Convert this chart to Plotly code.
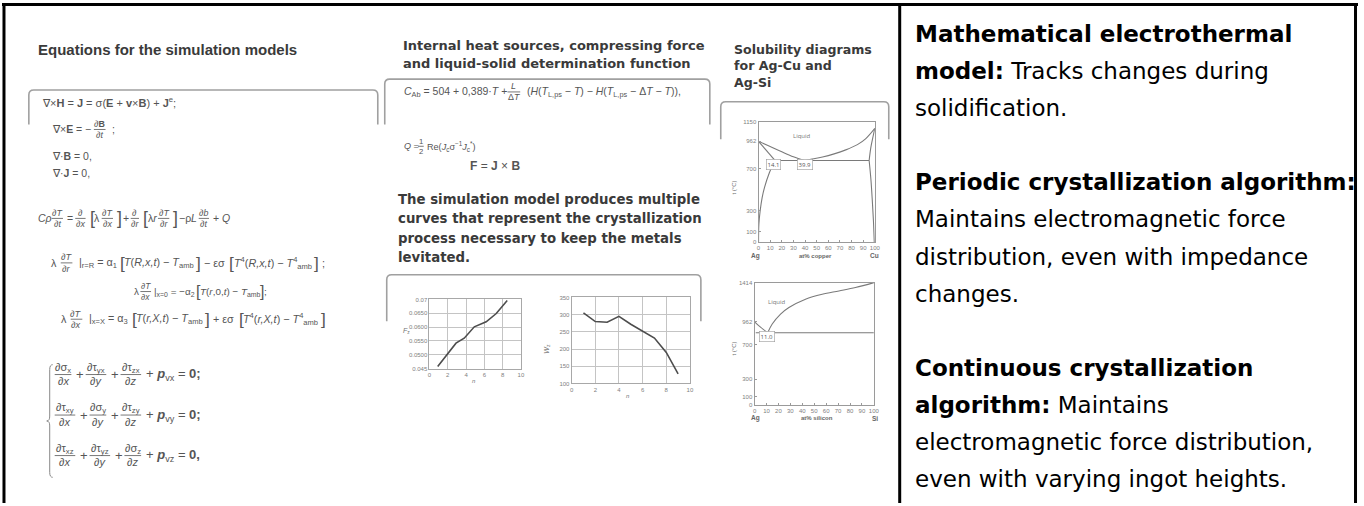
import re
import plotly.graph_objects as go

W, H = 1364, 506

# ---------------- chart data ----------------
# small chart 1: compressing force F_z vs n
fz_n = [0.9, 2.9, 3.8, 4.9, 6.2, 7.3, 8.5]
fz_val = [0.0458, 0.0542, 0.0560, 0.0601, 0.0619, 0.0649, 0.0696]
fz_ticks = [0.045, 0.050, 0.055, 0.060, 0.065, 0.070]
fz_ticklabels = ["0.045", "0.0500", "0.0550", "0.0600", "0.0650", "0.07"]
n_ticks = [0, 2, 4, 6, 8, 10]

# small chart 2: W_z vs n
wz_n = [1, 2, 3, 4, 5, 6, 7, 8, 9]
wz_val = [305, 280, 278, 295, 272, 252, 232, 190, 128]
wz_ticks = [100, 150, 200, 250, 300, 350]

# Ag-Cu phase diagram (at% Cu, deg C)
agcu_liqL_x = [0, 10, 20, 30, 39.9]
agcu_liqL_t = [962, 912, 862, 815, 779]
agcu_liqR_x = [39.9, 45, 55, 65, 75, 85, 92, 100]
agcu_liqR_t = [779, 790, 812, 842, 880, 930, 985, 1085]
agcu_solL_x = [0, 14.1]
agcu_solL_t = [962, 779]
agcu_solvL_x = [14.1, 9.3, 5.1, 3.1, 1.4, 0.3, 0]
agcu_solvL_t = [779, 662, 520, 425, 299, 173, 0]
agcu_solR_x = [95.1, 96.5, 98.5, 100]
agcu_solR_t = [779, 900, 1010, 1085]
agcu_solvR_x = [95.1, 96.6, 97.8, 98.8, 99.5]
agcu_solvR_t = [779, 600, 400, 200, 0]
agcu_eut_x = [14.1, 95.1]
agcu_eut_t = [779, 779]
agcu_yticks = [0, 100, 300, 700, 962, 1150]

# Ag-Si phase diagram (at% Si, deg C)
agsi_liqL_x = [0, 5, 11]
agsi_liqL_t = [962, 900, 835]
agsi_liqR_x = [11, 14.8, 21.8, 28.8, 42.7, 56.7, 70.7, 84.6, 100]
agsi_liqR_t = [835, 936, 1051, 1127, 1223, 1280, 1318, 1357, 1414]
agsi_eut_x = [1, 100]
agsi_eut_t = [835, 835]
agsi_yticks = [0, 100, 300, 700, 962, 1414]
pct_ticks = [0, 10, 20, 30, 40, 50, 60, 70, 80, 90, 100]

# ---------------- texts ----------------
eq_title = "Equations for the simulation models"
mid_title = ["Internal heat sources, compressing force",
             "and liquid-solid determination function"]
sim_text = ["The simulation model produces multiple",
            "curves that represent the crystallization",
            "process necessary to keep the metals",
            "levitated."]
sol_title = ["Solubility diagrams", "for Ag-Cu and", "Ag-Si"]
right_lines = [
    "<b>Mathematical electrothermal</b>",
    "<b>model:</b> Tracks changes during",
    "solidification.",
    "",
    "<b>Periodic crystallization algorithm:</b>",
    "Maintains electromagnetic force",
    "distribution, even with impedance",
    "changes.",
    "",
    "<b>Continuous crystallization</b>",
    "<b>algorithm:</b> Maintains",
    "electromagnetic force distribution,",
    "even with varying ingot heights.",
]

# ---------------- helpers ----------------
ann = []
shapes = []
EQ_COL = "#555555"
EQ_FONT = "Liberation Sans"


def X(px):
    return px / W


def Y(py):
    return 1 - py / H


def text(px, py, s, size, color="#333", family="Liberation Sans", anchor="left",
         yanchor="middle", angle=0):
    ann.append(dict(x=X(px), y=Y(py), xref="paper", yref="paper", text=s, showarrow=False,
                    xanchor=anchor, yanchor=yanchor, textangle=angle, borderpad=0,
                    font=dict(size=round(size, 1), color=color, family=family)))


def line(x0, y0, x1, y1, color="#000", width=1):
    shapes.append(dict(type="line", xref="paper", yref="paper", x0=X(x0), y0=Y(y0),
                       x1=X(x1), y1=Y(y1), line=dict(color=color, width=width)))


def path(points_str, color="#999", width=1.5):
    shapes.append(dict(type="path", xref="paper", yref="paper", path=points_str,
                       line=dict(color=color, width=width)))


def bracket(x0, x1, ytop, ybot, r=5):
    p = (f"M {X(x0)},{Y(ybot)} L {X(x0)},{Y(ytop + r)} Q {X(x0)},{Y(ytop)} {X(x0 + r)},{Y(ytop)} "
         f"L {X(x1 - r)},{Y(ytop)} Q {X(x1)},{Y(ytop)} {X(x1)},{Y(ytop + r)} L {X(x1)},{Y(ybot)}")
    path(p, color="#a0a0a0", width=1.6)


def cw(ch):
    if ch.isdigit():
        return 0.6
    if ch in "il.,;:|!'":
        return 0.27
    if ch in "()[]{}":
        return 0.35
    if ch in "ftrj":
        return 0.3
    if ch == " ":
        return 0.3
    if ch in "mwMW":
        return 0.85
    if ch in "=+\u2212\u00d7":
        return 0.63
    if ch == "\u00b7":
        return 0.3
    if ch == "\u2207":
        return 0.72
    if ch == "\u2202":
        return 0.5
    if ch.isupper():
        return 0.67
    return 0.55


def tw(s, size):
    scale, bold, w = 1.0, 1.0, 0.0
    for p in re.split(r"(<[^>]+>)", s):
        if p.startswith("<"):
            if p in ("<sub>", "<sup>"):
                scale = 0.7
            elif p in ("</sub>", "</sup>"):
                scale = 1.0
            elif p == "<b>":
                bold = 1.07
            elif p == "</b>":
                bold = 1.0
            continue
        for ch in p:
            w += cw(ch) * size * scale * bold * 0.92
    return w


GAP = 0.22


def frac_w(it, size):
    fs = size * 0.85
    return max(tw(it[1], fs), tw(it[2], fs)) + 0.2 * fs


def eq_width(items, size):
    w = 0
    for it in items:
        if isinstance(it, str):
            w += tw(it, size) + size * GAP
        elif it[0] == "f":
            w += frac_w(it, size) + size * GAP
        elif it[0] == "big":
            w += tw(it[1], size * it[2]) * 0.8
    return w


def draw_eq(x0, x1, y, items, maxsize, color=EQ_COL):
    size = min(maxsize, (x1 - x0) / eq_width(items, 1.0))
    natural = eq_width(items, size)
    n_gaps = max(1, sum(1 for it in items if not (isinstance(it, tuple) and it[0] == "big" and it[1] in "[(")))
    extra = 0.0
    if natural < (x1 - x0) and len(items) > 1:
        extra = min(size * 0.3, ((x1 - x0) - natural) / n_gaps)
    x = x0
    for it in items:
        if isinstance(it, str):
            text(x, y, it, size, color=color, family=EQ_FONT)
            x += tw(it, size) + size * GAP + extra
        elif it[0] == "f":
            fs = size * 0.85
            w = frac_w(it, size)
            text(x + w / 2, y - fs * 0.62, it[1], fs, color=color, family=EQ_FONT, anchor="center")
            text(x + w / 2, y + fs * 0.62, it[2], fs, color=color, family=EQ_FONT, anchor="center")
            line(x, y, x + w, y, color=color, width=0.8)
            x += w + size * GAP + extra
        elif it[0] == "big":
            fs = size * it[2]
            text(x, y, it[1], fs, color=color, family=EQ_FONT)
            x += tw(it[1], fs) * 0.8
            if it[1] not in "[(":
                x += extra


# ---------------- frame / borders ----------------
line(0, 1.5, W, 1.5, "#000", 3)
line(2, 0, 2, H, "#000", 3)
line(1361.5, 0, 1361.5, H, "#000", 3)
line(903, 0, 903, H, "#000", 3)

# ---------------- left panel: equations ----------------
text(35, 47, "<b>" + eq_title + "</b>", 15, color="#3a3a3a", family="Liberation Sans")
bracket(27, 378, 88, 123)

draw_eq(39, 185, 100, ["\u2207\u00d7<b>H</b> = <b>J</b> = \u03c3(<b>E</b> + <b>v</b>\u00d7<b>B</b>) + <b>J</b><sup>e</sup>;"], 11)
draw_eq(49, 136, 128, ["\u2207\u00d7<b>E</b> = \u2212", ("f", "\u2202<b>B</b>", "\u2202<i>t</i>"), ";"], 10.5)
draw_eq(49, 113, 155, ["\u2207\u00b7<b>B</b> = 0,"], 10.5)
draw_eq(49, 107, 172, ["\u2207\u00b7<b>J</b> = 0,"], 10.5)

draw_eq(35, 230, 218, [
    "<i>C\u03c1</i>", ("f", "\u2202<i>T</i>", "\u2202<i>t</i>"), "=", ("f", "\u2202", "\u2202<i>x</i>"),
    ("big", "[", 1.7), "\u03bb", ("f", "\u2202<i>T</i>", "\u2202<i>x</i>"), ("big", "]", 1.7), "+",
    ("f", "\u2202", "\u2202<i>r</i>"), ("big", "[", 1.7), "\u03bb<i>r</i>", ("f", "\u2202<i>T</i>", "\u2202<i>r</i>"),
    ("big", "]", 1.7), "\u2212\u03c1<i>L</i>", ("f", "\u2202<i>b</i>", "\u2202<i>t</i>"), "+ <i>Q</i>"], 10.5)

draw_eq(48, 335, 263, [
    "\u03bb", ("f", "\u2202<i>T</i>", "\u2202<i>r</i>"), "|<sub>r=R</sub> = \u03b1<sub>1</sub>", ("big", "[", 1.6),
    "<i>T</i>(<i>R,x,t</i>) \u2212 <i>T</i><sub>amb</sub>", ("big", "]", 1.6), "\u2212 \u03b5\u03c3", ("big", "[", 1.6),
    "<i>T</i><sup>4</sup>(<i>R,x,t</i>) \u2212 <i>T</i><sup>4</sup><sub>amb</sub>", ("big", "]", 1.6), ";"], 10.8)
draw_eq(132, 267, 292, [
    "\u03bb", ("f", "\u2202<i>T</i>", "\u2202<i>x</i>"), "|<sub>x=0</sub> = \u2212\u03b1<sub>2</sub>", ("big", "[", 1.6),
    "<i>T</i>(<i>r</i>,0,<i>t</i>) \u2212 <i>T</i><sub>amb</sub>", ("big", "]", 1.6), ";"], 10)
draw_eq(58, 360, 320, [
    "\u03bb", ("f", "\u2202<i>T</i>", "\u2202<i>x</i>"), "|<sub>x=X</sub> = \u03b1<sub>3</sub>", ("big", "[", 1.6),
    "<i>T</i>(<i>r,X,t</i>) \u2212 <i>T</i><sub>amb</sub>", ("big", "]", 1.6), "+ \u03b5\u03c3", ("big", "[", 1.6),
    "<i>T</i><sup>4</sup>(<i>r,X,t</i>) \u2212 <i>T</i><sup>4</sup><sub>amb</sub>", ("big", "]", 1.6)], 10.8)

# system of equilibrium equations with a left brace
bx = 48
path(f"M {X(bx + 3)},{Y(366)} Q {X(bx)},{Y(366)} {X(bx)},{Y(371)} L {X(bx)},{Y(418)} "
     f"Q {X(bx)},{Y(423)} {X(bx - 3)},{Y(423)} Q {X(bx)},{Y(423)} {X(bx)},{Y(428)} "
     f"L {X(bx)},{Y(475)} Q {X(bx)},{Y(480)} {X(bx + 3)},{Y(480)}", color="#888", width=1)
draw_eq(53, 200, 376, [("f", "\u2202\u03c3<sub>x</sub>", "\u2202<i>x</i>"), "+",
                       ("f", "\u2202\u03c4<sub>yx</sub>", "\u2202<i>y</i>"), "+",
                       ("f", "\u2202\u03c4<sub>zx</sub>", "\u2202<i>z</i>"), "+ <b><i>p</i></b><sub>vx</sub> = <b>0;</b>"], 13)
draw_eq(53, 200, 417, [("f", "\u2202\u03c4<sub>xy</sub>", "\u2202<i>x</i>"), "+",
                       ("f", "\u2202\u03c3<sub>y</sub>", "\u2202<i>y</i>"), "+",
                       ("f", "\u2202\u03c4<sub>zy</sub>", "\u2202<i>z</i>"), "+ <b><i>p</i></b><sub>vy</sub> = <b>0;</b>"], 13)
draw_eq(53, 200, 458, [("f", "\u2202\u03c4<sub>xz</sub>", "\u2202<i>x</i>"), "+",
                       ("f", "\u2202\u03c4<sub>yz</sub>", "\u2202<i>y</i>"), "+",
                       ("f", "\u2202\u03c3<sub>z</sub>", "\u2202<i>z</i>"), "+ <b><i>p</i></b><sub>vz</sub> = <b>0,</b>"], 13)

# ---------------- middle panel ----------------
for i, s in enumerate(mid_title):
    text(402, 43 + 18.5 * i, "<b>" + s + "</b>", 13, color="#3a3a3a", family="DejaVu Sans")
bracket(385, 712, 77, 123)
draw_eq(403, 700, 90, ["<i>C</i><sub>Ab</sub> = 504 + 0,389\u00b7<i>T</i> +", ("f", "<i>L</i>", "\u0394<i>T</i>"),
                       "(<i>H</i>(<i>T</i><sub>L,ps</sub> \u2212 <i>T</i>) \u2212 <i>H</i>(<i>T</i><sub>L,ps</sub> \u2212 \u0394<i>T</i> \u2212 <i>T</i>)),"], 10.5)
draw_eq(403, 477, 145, ["<i>Q</i> =", ("f", "1", "2"), "Re(<i>J</i><sub>c</sub>\u03c3<sup>\u22121</sup><i>J</i><sub>c</sub><sup>*</sup>)"], 10)
draw_eq(470, 537, 165, ["<b>F</b> = <b>J</b> \u00d7 <b>B</b>"], 12)

for i, s in enumerate(sim_text):
    text(397, 199 + 19.5 * i, "<b>" + s + "</b>", 13.3, color="#3a3a3a", family="DejaVu Sans")
bracket(387, 703, 275, 322)

# ---------------- solubility panel ----------------
for i, s in enumerate(sol_title):
    text(735, 47 + 16.6 * i, "<b>" + s + "</b>", 12.6, color="#3a3a3a", family="DejaVu Sans")
bracket(723, 892, 100, 138)

# ---------------- right text panel ----------------
for i, s in enumerate(right_lines):
    if s:
        text(917, 31 + 37.6 * i, s, 23, color="#000", family="DejaVu Sans")

# ---------------- figure & traces ----------------
fig = go.Figure()
LC = "#4d4d4d"
fig.add_trace(go.Scatter(x=fz_n, y=fz_val, mode="lines", line=dict(color=LC, width=1.6),
                         xaxis="x", yaxis="y"))
fig.add_trace(go.Scatter(x=wz_n, y=wz_val, mode="lines", line=dict(color=LC, width=1.6),
                         xaxis="x2", yaxis="y2"))
PC = "#7a7a7a"
for xs, ts in [(agcu_liqL_x, agcu_liqL_t), (agcu_liqR_x, agcu_liqR_t), (agcu_solL_x, agcu_solL_t),
               (agcu_solvL_x, agcu_solvL_t), (agcu_solR_x, agcu_solR_t), (agcu_solvR_x, agcu_solvR_t),
               (agcu_eut_x, agcu_eut_t)]:
    fig.add_trace(go.Scatter(x=xs, y=ts, mode="lines", line=dict(color=PC, width=1.1, shape="spline"),
                             xaxis="x3", yaxis="y3"))
for xs, ts in [(agsi_liqL_x, agsi_liqL_t), (agsi_liqR_x, agsi_liqR_t), (agsi_eut_x, agsi_eut_t)]:
    fig.add_trace(go.Scatter(x=xs, y=ts, mode="lines", line=dict(color=PC, width=1.1, shape="spline"),
                             xaxis="x4", yaxis="y4"))

TF = dict(size=6, color="#808080", family="Liberation Sans")
grid_ax = dict(showgrid=True, gridcolor="#c4c4c4", gridwidth=1, showline=True, linecolor="#a8a8a8",
               linewidth=1, mirror=True, zeroline=False, ticks="", tickfont=TF, fixedrange=True)
box_ax = dict(showgrid=False, showline=True, linecolor="#9a9a9a", linewidth=1.2, mirror=True,
              zeroline=False, ticks="inside", ticklen=2, tickcolor="#9a9a9a", tickfont=TF, fixedrange=True)


def dom(a, b, vertical=False):
    return [Y(b), Y(a)] if vertical else [X(a), X(b)]


fig.update_layout(
    width=W, height=H, autosize=False, margin=dict(l=0, r=0, t=0, b=0),
    paper_bgcolor="white", plot_bgcolor="white", showlegend=False,
    xaxis=dict(domain=dom(430, 522), range=[0, 10], tickvals=n_ticks, anchor="y", **grid_ax),
    yaxis=dict(domain=dom(300, 370, True), range=[0.045, 0.070], tickvals=fz_ticks,
               ticktext=fz_ticklabels, anchor="x", **grid_ax),
    xaxis2=dict(domain=dom(573, 692), range=[0, 10], tickvals=n_ticks, anchor="y2", **grid_ax),
    yaxis2=dict(domain=dom(298, 385, True), range=[100, 350], tickvals=wz_ticks, anchor="x2", **grid_ax),
    xaxis3=dict(domain=dom(761, 878), range=[0, 100], tickvals=pct_ticks, anchor="y3", **box_ax),
    yaxis3=dict(domain=dom(120, 242, True), range=[0, 1150], tickvals=agcu_yticks, anchor="x3", **box_ax),
    xaxis4=dict(domain=dom(757, 877), range=[0, 100], tickvals=pct_ticks, anchor="y4", **box_ax),
    yaxis4=dict(domain=dom(283, 407, True), range=[0, 1414], tickvals=agsi_yticks, anchor="x4", **box_ax),
)

# chart labels
SF = "#707070"
text(402, 332, "<i>F</i><sub>z</sub>", 7, color=SF)
text(475, 383, "<i>n</i>", 6, color=SF, anchor="center")
text(548, 350, "<i>W</i><sub>z</sub>", 7, color=SF, anchor="center", angle=-90)
text(630, 398, "<i>n</i>", 6, color=SF, anchor="center")

text(736, 187, "t (\u00b0C)", 6, color=SF, anchor="center", angle=-90)
text(758, 256, "<b>Ag</b>", 6.5, color="#666", anchor="center")
text(818, 256, "<b>at% copper</b>", 6, color="#666", anchor="center")
text(878, 256, "<b>Cu</b>", 6.5, color="#666", anchor="center")
text(736, 350, "t (\u00b0C)", 6, color=SF, anchor="center", angle=-90)
text(758, 420, "<b>Ag</b>", 6.5, color="#666", anchor="center")
text(820, 420, "<b>at% silicon</b>", 6, color="#666", anchor="center")
text(878, 420, "<b>Si</b>", 6.5, color="#666", anchor="center")

for a in ann:
    fig.add_annotation(**a)

fig.add_annotation(x=37.7, y=1008, xref="x3", yref="y3", text="Liquid", showarrow=False,
                   font=dict(size=6, color="#777"))
fig.add_annotation(x=12.5, y=745, xref="x3", yref="y3", text="14.1", showarrow=False,
                   font=dict(size=6, color="#555"), bgcolor="white", bordercolor="#999", borderwidth=0.6)
fig.add_annotation(x=39.9, y=745, xref="x3", yref="y3", text="39.9", showarrow=False,
                   font=dict(size=6, color="#555"), bgcolor="white", bordercolor="#999", borderwidth=0.6)
fig.add_annotation(x=19, y=1185, xref="x4", yref="y4", text="Liquid", showarrow=False,
                   font=dict(size=6, color="#777"))
fig.add_annotation(x=10.6, y=790, xref="x4", yref="y4", text="11.0", showarrow=False,
                   font=dict(size=6, color="#555"), bgcolor="white", bordercolor="#999", borderwidth=0.6)

fig.update_layout(shapes=shapes)
fig.write_html("out.html", config={"displayModeBar": False},
               post_script="document.body.style.margin='0';document.body.style.overflow='hidden';")
